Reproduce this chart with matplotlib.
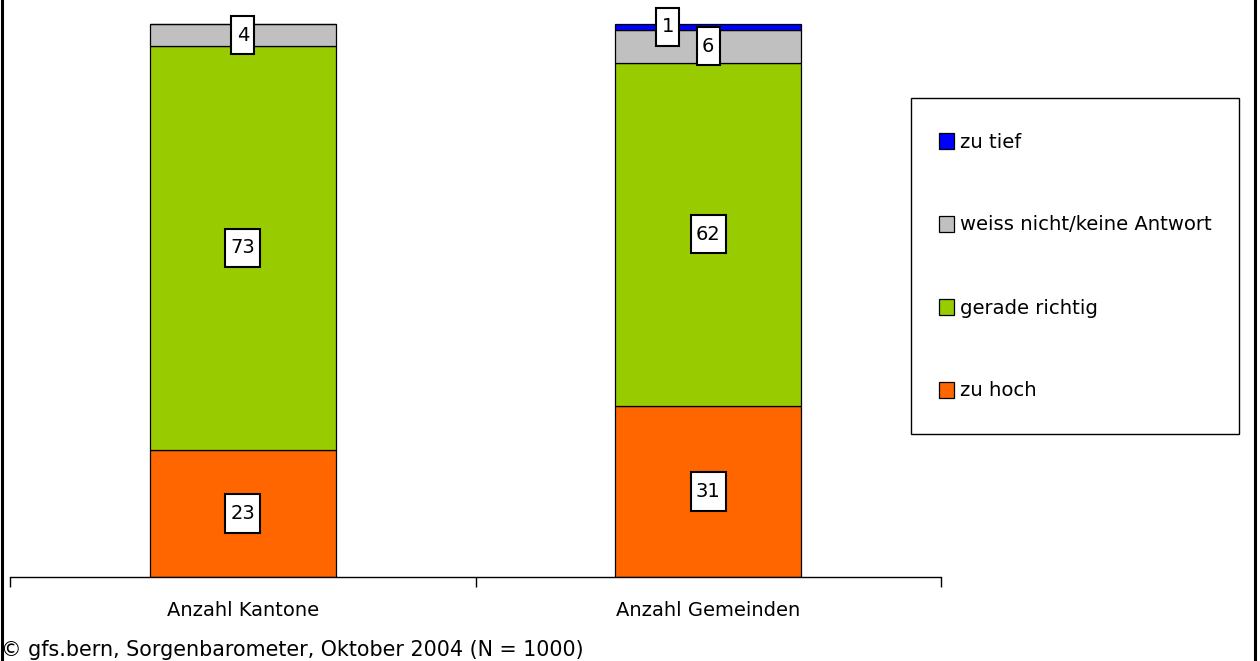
import numpy as np
import matplotlib
matplotlib.use("Agg")
import matplotlib.pyplot as plt
from matplotlib.patches import Rectangle
from matplotlib.lines import Line2D
from matplotlib.path import Path

# ======================
# Daten
# ======================
categories = ["Anzahl Kantone", "Anzahl Gemeinden"]
series_names = ["zu hoch", "gerade richtig", "weiss nicht/keine Antwort", "zu tief"]
zu_hoch = [23, 31]
gerade_richtig = [73, 62]
weiss_nicht = [4, 6]
zu_tief = [0, 1]
footer = "© gfs.bern, Sorgenbarometer, Oktober 2004 (N = 1000)"

colors = ["#FF6600", "#99CC00", "#C0C0C0", "#0000FF"]
values = [zu_hoch, gerade_richtig, weiss_nicht, zu_tief]

plt.rcParams["font.family"] = ["DejaVu Sans"]
plt.rcParams["font.size"] = 14

W, H = 1260, 661
fig = plt.figure(figsize=(W / 100, H / 100), dpi=100)
ax = fig.add_axes([10 / W, 1 - 577 / H, 931 / W, 577 / H])


# Box um die Datenlabels: hoeher als breit
def tall_box(x0, y0, width, height, mutation_size):
    px = 0.27 * mutation_size
    py = 0.5 * mutation_size
    x0, y0 = x0 - px, y0 - py
    x1, y1 = x0 + width + 2 * px, y0 + height + 2 * py
    return Path([(x0, y0), (x1, y0), (x1, y1), (x0, y1), (x0, y0)], closed=True)


x = np.arange(len(categories))
bottom = np.zeros(len(categories))
for name, vals, col in zip(series_names, values, colors):
    vals = np.array(vals, dtype=float)
    ax.bar(x, vals, 0.4, bottom=bottom, color=col, edgecolor="black",
           linewidth=0.9, label=name)
    for i, v in enumerate(vals):
        if v <= 0:
            continue
        xi = x[i]
        # kleines Segment oben: Label nach links versetzt
        if v < 3:
            xi = x[i] - 0.087
        ax.text(xi, bottom[i] + v / 2, f"{int(v)}", ha="center", va="center",
                fontsize=14, clip_on=False, zorder=5,
                bbox=dict(boxstyle=tall_box, fc="white", ec="black", lw=1.5))
    bottom += vals

ax.set_xlim(-0.5, 1.5)
ax.set_ylim(0, 577 / 5.53)

for s in ["top", "right", "left"]:
    ax.spines[s].set_visible(False)
ax.spines["bottom"].set_linewidth(1.0)
ax.set_yticks([])
ax.set_xticks([-0.5, 0.5, 1.5])
ax.set_xticklabels([])
ax.tick_params(axis="x", which="major", length=7, width=1.0, direction="out")
ax.set_xticks(x, minor=True)
ax.set_xticklabels(categories, minor=True)
ax.tick_params(axis="x", which="minor", length=0, pad=17.5)

# Legende (manuell, von oben nach unten)
fig.patches.append(Rectangle((911 / W, 1 - 434 / H), 328 / W, 336 / H,
                             transform=fig.transFigure, fc="white", ec="black", lw=1.0))
leg_y = [141, 224, 307, 390]
for yy, name, col in zip(leg_y, series_names[::-1], colors[::-1]):
    fig.patches.append(Rectangle((939 / W, 1 - (yy + 8) / H), 15 / W, 16 / H,
                                 transform=fig.transFigure, fc=col, ec="black", lw=0.9))
    fig.text(960 / W, 1 - (yy + 1) / H, name, ha="left", va="center", fontsize=14.1)

fig.text(1 / W, 1 - 650 / H, footer, ha="left", va="center", fontsize=14.9)

# Rahmenlinien links und rechts
fig.add_artist(Line2D([1.5 / W, 1.5 / W], [0, 1], color="black", lw=2.2, transform=fig.transFigure))
fig.add_artist(Line2D([1254.5 / W, 1254.5 / W], [0, 1], color="black", lw=2.2, transform=fig.transFigure))

fig.savefig("out.png", dpi=100)
